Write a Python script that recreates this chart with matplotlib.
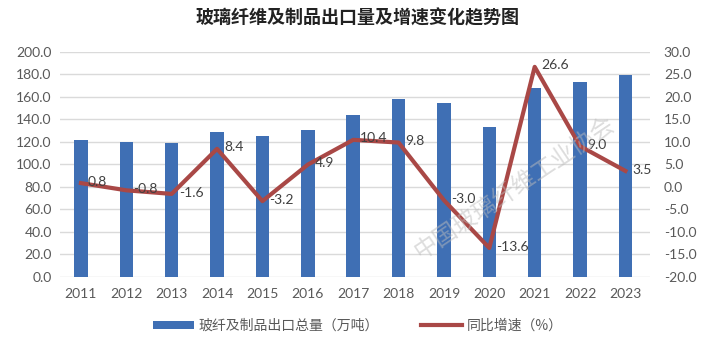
import matplotlib
matplotlib.use("Agg")
import matplotlib.pyplot as plt
import numpy as np

# ── datos ─────────────────────────────────────
years = ["2011", "2012", "2013", "2014", "2015", "2016", "2017",
         "2018", "2019", "2020", "2021", "2022", "2023"]
export_vol = [121.5, 120.0, 119.0, 128.6, 124.7, 130.7, 144.0,
              158.0, 154.0, 133.0, 168.0, 173.0, 179.5]
growth = [0.8, -0.8, -1.6, 8.4, -3.2, 4.9, 10.4,
          9.8, -3.0, -13.6, 26.6, 9.0, 3.5]
left_ticks = [0, 20, 40, 60, 80, 100, 120, 140, 160, 180, 200]
right_ticks = [-20, -15, -10, -5, 0, 5, 10, 15, 20, 25, 30]

# ── estilo ────────────────────────────────────
BLUE = "#3F6FB4"
RED = "#A94846"
GRID = "#DADADA"
TXT = "#595959"
CJK = ["Noto Sans CJK SC", "DejaVu Sans"]
plt.rcParams["font.family"] = ["Lato", "Noto Sans CJK SC", "DejaVu Sans"]

fig = plt.figure(figsize=(7.15, 3.46), dpi=100, facecolor="white")
ax = fig.add_axes([0.084, 0.2, 0.825, 0.651])
ax2 = ax.twinx()

x = np.arange(len(years))
ax.bar(x, export_vol, width=0.3, color=BLUE, zorder=2,
       label="玻纤及制品出口总量（万吨）")
ax2.plot(x, growth, color=RED, linewidth=3, zorder=3,
         label="同比增速（%）")

for xi, g in zip(x, growth):
    ax2.annotate(f"{g:.1f}", (xi, g), xytext=(5, 1), textcoords="offset points",
                 ha="left", va="center", fontsize=10, color="#404040")

ax.set_xlim(-0.46, 12.54)
ax.set_ylim(0, 200)
ax2.set_ylim(-20, 30)
ax.set_yticks(left_ticks)
ax.set_yticklabels([f"{v:.1f}" for v in left_ticks])
ax2.set_yticks(right_ticks)
ax2.set_yticklabels([f"{v:.1f}" for v in right_ticks])
ax.set_xticks(x)
ax.set_xticklabels(years)

ax.grid(axis="y", color=GRID, linewidth=1, zorder=0)
ax.set_axisbelow(True)
for a in (ax, ax2):
    for s in a.spines.values():
        s.set_visible(False)
    a.tick_params(length=0, labelsize=10, labelcolor=TXT)
ax.tick_params(axis="x", pad=8)
ax.tick_params(axis="y", pad=6)
ax2.tick_params(axis="y", pad=10)

fig.text(0.5, 0.948, "玻璃纤维及制品出口量及增速变化趋势图", ha="center", va="center",
         fontsize=13, fontweight="bold", family=CJK, color="#222222")

# marca de agua
fig.text(0.72, 0.457, "中国玻璃纤维工业协会", rotation=34, ha="center", va="center",
         fontsize=17, family=CJK, color="#BBBBBB", alpha=0.5, zorder=5)

h1, l1 = ax.get_legend_handles_labels()
h2, l2 = ax2.get_legend_handles_labels()
fig.legend(h1 + h2, l1 + l2, loc="center", bbox_to_anchor=(0.5, 0.058), ncol=2,
           frameon=False, prop={"family": CJK, "size": 10}, labelcolor=TXT,
           handlelength=3, handleheight=0.6, columnspacing=3, handletextpad=0.3)

plt.savefig("out.png", dpi=100, facecolor="white")
